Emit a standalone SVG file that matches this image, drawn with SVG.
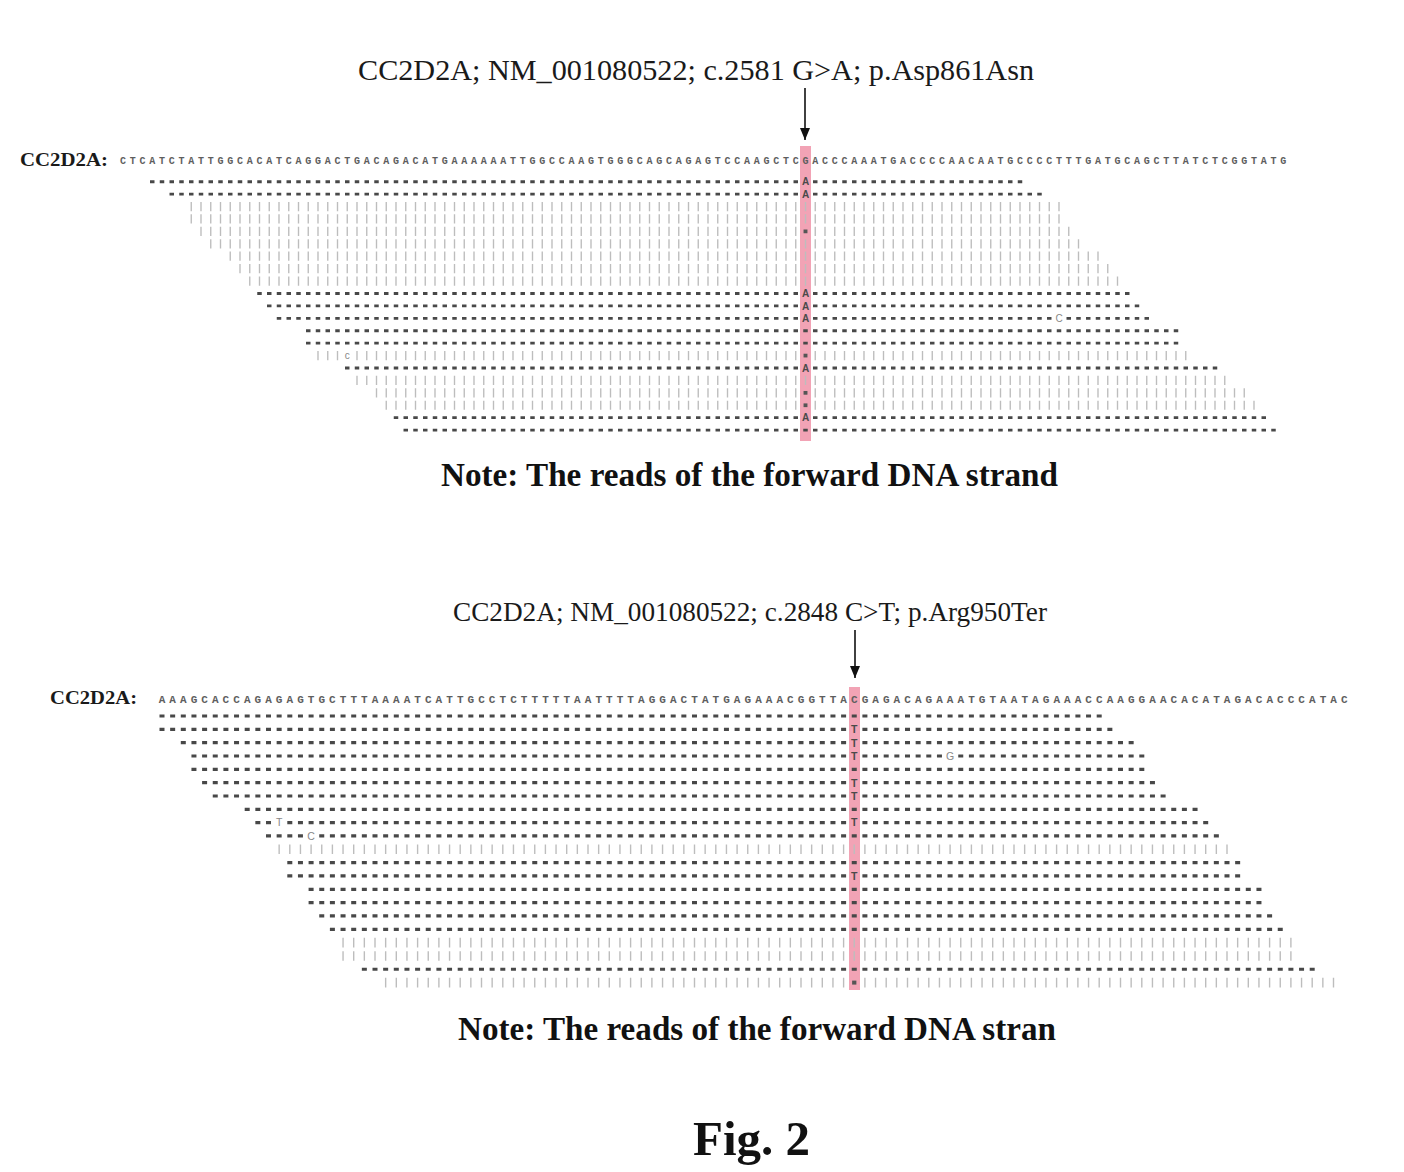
<svg xmlns="http://www.w3.org/2000/svg" width="1404" height="1172" viewBox="0 0 1404 1172">
<style>
.ttl{font-family:"Liberation Serif","Times New Roman",serif;fill:#1a1a1a}
.lbl{font-family:"Liberation Serif","Times New Roman",serif;font-weight:bold;fill:#1a1a1a}
.note{font-family:"Liberation Serif","Times New Roman",serif;font-weight:bold;font-size:33px;fill:#111}
.seq{font-family:"Liberation Mono","DejaVu Sans Mono",monospace;font-weight:bold;fill:#5e5e5e}
.mm{font-family:"Liberation Sans",Arial,sans-serif;font-weight:bold;fill:#4a4a4a;text-anchor:middle}
.mm2{font-family:"Liberation Sans",Arial,sans-serif;fill:#888;text-anchor:middle}
.pink{fill:#f2a3b5}
.dt{stroke:#484848;stroke-width:0.23;stroke-dasharray:0.46 0.54;fill:none}
.bt{stroke:#bdbdbd;stroke-width:0.74;stroke-dasharray:0.14 0.86;fill:none}
.db{stroke:#484848;stroke-width:0.24;stroke-dasharray:0.47 0.53;fill:none}
.bb{stroke:#bdbdbd;stroke-width:0.72;stroke-dasharray:0.13 0.87;fill:none}
.sq{fill:#555}
.arr{stroke:#111;stroke-width:1.6;fill:none}
</style>
<defs>
<marker id="ah" markerUnits="userSpaceOnUse" markerWidth="12" markerHeight="10" viewBox="0 0 12 10" refX="12" refY="5" orient="auto">
<path d="M0,0 L12,5 L0,10 z" fill="#111"/>
</marker>
</defs>
<rect width="1404" height="1172" fill="#ffffff"/>

<g id="panel-top">
<text id="title-top" class="ttl" x="358" y="80" font-size="29" textLength="676" lengthAdjust="spacingAndGlyphs">CC2D2A; NM_001080522; c.2581 G&gt;A; p.Asp861Asn</text>
<text id="label-top" class="lbl" x="20" y="166" font-size="19" textLength="88" lengthAdjust="spacingAndGlyphs">CC2D2A:</text>
<rect id="highlight-top" class="pink" x="800" y="146" width="11" height="295"/>
<text id="seq-top" class="seq" x="120" y="163.6" font-size="10" letter-spacing="3.75">CTCATCTATTGGCACATCAGGACTGACAGACATGAAAAAATTGGCCAAGTGGGCAGCAGAGTCCAAGCTCGACCCAAATGACCCCAACAATGCCCCTTTGATGCAGCTTATCTCGGTATG</text>
<g id="reads-top" transform="translate(123,181.7) scale(9.75,12.42)">
<line class="dt" x1="2.77" x2="69.23" y1="0" y2="0"/><line class="dt" x1="70.77" x2="92.23" y1="0" y2="0"/>
<line class="dt" x1="4.77" x2="69.23" y1="1" y2="1"/><line class="dt" x1="70.77" x2="94.23" y1="1" y2="1"/>
<line class="bt" x1="6.93" x2="96.07" y1="2" y2="2"/>
<line class="bt" x1="6.93" x2="96.07" y1="3" y2="3"/>
<line class="bt" x1="7.93" x2="69.07" y1="4" y2="4"/><line class="bt" x1="70.93" x2="97.07" y1="4" y2="4"/>
<line class="bt" x1="8.93" x2="98.07" y1="5" y2="5"/>
<line class="bt" x1="10.93" x2="100.07" y1="6" y2="6"/>
<line class="bt" x1="11.93" x2="101.07" y1="7" y2="7"/>
<line class="bt" x1="12.93" x2="102.07" y1="8" y2="8"/>
<line class="dt" x1="13.77" x2="69.23" y1="9" y2="9"/><line class="dt" x1="70.77" x2="103.23" y1="9" y2="9"/>
<line class="dt" x1="14.77" x2="69.23" y1="10" y2="10"/><line class="dt" x1="70.77" x2="104.23" y1="10" y2="10"/>
<line class="dt" x1="15.77" x2="69.23" y1="11" y2="11"/><line class="dt" x1="70.77" x2="95.23" y1="11" y2="11"/><line class="dt" x1="96.77" x2="105.23" y1="11" y2="11"/>
<line class="dt" x1="18.77" x2="108.23" y1="12" y2="12"/>
<line class="dt" x1="18.77" x2="108.23" y1="13" y2="13"/>
<line class="bt" x1="19.93" x2="22.07" y1="14" y2="14"/><line class="bt" x1="23.93" x2="69.07" y1="14" y2="14"/><line class="bt" x1="70.93" x2="109.07" y1="14" y2="14"/>
<line class="dt" x1="22.77" x2="69.23" y1="15" y2="15"/><line class="dt" x1="70.77" x2="112.23" y1="15" y2="15"/>
<line class="bt" x1="23.93" x2="113.07" y1="16" y2="16"/>
<line class="bt" x1="25.93" x2="69.07" y1="17" y2="17"/><line class="bt" x1="70.93" x2="115.07" y1="17" y2="17"/>
<line class="bt" x1="26.93" x2="69.07" y1="18" y2="18"/><line class="bt" x1="70.93" x2="116.07" y1="18" y2="18"/>
<line class="dt" x1="27.77" x2="69.23" y1="19" y2="19"/><line class="dt" x1="70.77" x2="117.23" y1="19" y2="19"/>
<line class="dt" x1="28.77" x2="118.23" y1="20" y2="20"/>
<rect class="sq" x="69.8" y="3.85" width="0.4" height="0.3"/>
<rect class="sq" x="69.8" y="13.85" width="0.4" height="0.3"/>
<rect class="sq" x="69.8" y="16.85" width="0.4" height="0.3"/>
<rect class="sq" x="69.8" y="17.85" width="0.4" height="0.3"/>
</g>
<g id="mismatch-top" font-size="10">
<text class="mm" x="805.5" y="185.3">A</text>
<text class="mm" x="805.5" y="197.7">A</text>
<text class="mm" x="805.5" y="297.1">A</text>
<text class="mm" x="805.5" y="309.5">A</text>
<text class="mm" x="805.5" y="321.9">A</text>
<text class="mm" x="805.5" y="371.6">A</text>
<text class="mm" x="805.5" y="421.3">A</text>
<text class="mm2" x="1059" y="321.9">C</text>
<text class="mm2" x="347.25" y="358.6">c</text>
</g>
<text id="note-top" class="note" x="441" y="486" textLength="617" lengthAdjust="spacingAndGlyphs">Note: The reads of the forward DNA strand</text>
</g>

<g id="panel-bottom">
<text id="title-bottom" class="ttl" x="453" y="621" font-size="27" textLength="594" lengthAdjust="spacingAndGlyphs">CC2D2A; NM_001080522; c.2848 C&gt;T; p.Arg950Ter</text>
<text id="label-bottom" class="lbl" x="50" y="704" font-size="19" textLength="87" lengthAdjust="spacingAndGlyphs">CC2D2A:</text>
<rect id="highlight-bottom" class="pink" x="849" y="687" width="11" height="303"/>
<text id="seq-bottom" class="seq" x="158.7" y="702.8" font-size="11" letter-spacing="4.05">AAAGCACCAGAGAGTGCTTTAAAATCATTGCCTCTTTTTAATTTTAGGACTATGAGAAACGGTTACGAGACAGAAATGTAATAGAAACCAAGGAACACATAGACACCCATAC</text>
<g id="reads-bottom" transform="translate(162,716) scale(10.65,13.33)">
<line class="db" x1="-0.235" x2="88.235" y1="0" y2="0"/>
<line class="db" x1="-0.235" x2="64.235" y1="1" y2="1"/><line class="db" x1="65.765" x2="89.235" y1="1" y2="1"/>
<line class="db" x1="1.765" x2="64.235" y1="2" y2="2"/><line class="db" x1="65.765" x2="91.235" y1="2" y2="2"/>
<line class="db" x1="2.765" x2="64.235" y1="3" y2="3"/><line class="db" x1="65.765" x2="73.235" y1="3" y2="3"/><line class="db" x1="74.765" x2="92.235" y1="3" y2="3"/>
<line class="db" x1="2.765" x2="92.235" y1="4" y2="4"/>
<line class="db" x1="3.765" x2="64.235" y1="5" y2="5"/><line class="db" x1="65.765" x2="93.235" y1="5" y2="5"/>
<line class="db" x1="4.765" x2="64.235" y1="6" y2="6"/><line class="db" x1="65.765" x2="94.235" y1="6" y2="6"/>
<line class="db" x1="7.765" x2="97.235" y1="7" y2="7"/>
<line class="db" x1="8.765" x2="10.235" y1="8" y2="8"/><line class="db" x1="11.765" x2="64.235" y1="8" y2="8"/><line class="db" x1="65.765" x2="98.235" y1="8" y2="8"/>
<line class="db" x1="9.765" x2="13.235" y1="9" y2="9"/><line class="db" x1="14.765" x2="99.235" y1="9" y2="9"/>
<line class="bb" x1="10.935" x2="100.065" y1="10" y2="10"/>
<line class="db" x1="11.765" x2="101.235" y1="11" y2="11"/>
<line class="db" x1="11.765" x2="64.235" y1="12" y2="12"/><line class="db" x1="65.765" x2="101.235" y1="12" y2="12"/>
<line class="db" x1="13.765" x2="103.235" y1="13" y2="13"/>
<line class="db" x1="13.765" x2="103.235" y1="14" y2="14"/>
<line class="db" x1="14.765" x2="104.235" y1="15" y2="15"/>
<line class="db" x1="15.765" x2="105.235" y1="16" y2="16"/>
<line class="bb" x1="16.935" x2="106.065" y1="17" y2="17"/>
<line class="bb" x1="16.935" x2="106.065" y1="18" y2="18"/>
<line class="db" x1="18.765" x2="108.235" y1="19" y2="19"/>
<line class="bb" x1="20.935" x2="64.065" y1="20" y2="20"/><line class="bb" x1="65.935" x2="110.065" y1="20" y2="20"/>
<rect class="sq" x="64.8" y="19.85" width="0.4" height="0.3"/>
</g>
<g id="mismatch-bottom" font-size="10.5">
<text class="mm" x="854.25" y="733.1">T</text>
<text class="mm" x="854.25" y="746.5">T</text>
<text class="mm" x="854.25" y="759.8">T</text>
<text class="mm" x="854.25" y="786.5">T</text>
<text class="mm" x="854.25" y="799.8">T</text>
<text class="mm" x="854.25" y="826.4">T</text>
<text class="mm" x="854.25" y="879.8">T</text>
<text class="mm2" x="950.1" y="759.8">G</text>
<text class="mm2" x="279.15" y="826.4">T</text>
<text class="mm2" x="311.1" y="839.8">C</text>
</g>
<text id="note-bottom" class="note" x="458" y="1040" textLength="598" lengthAdjust="spacingAndGlyphs">Note: The reads of the forward DNA stran</text>
</g>

<g id="connectors">
<line class="arr" x1="805" y1="88" x2="805" y2="140" marker-end="url(#ah)"/>
<line class="arr" x1="855" y1="630" x2="855" y2="678" marker-end="url(#ah)"/>
</g>

<text id="fig-label" x="693" y="1155" font-family="Liberation Serif, Times New Roman, serif" font-weight="bold" font-size="49" fill="#111" textLength="117" lengthAdjust="spacingAndGlyphs">Fig. 2</text>
</svg>
